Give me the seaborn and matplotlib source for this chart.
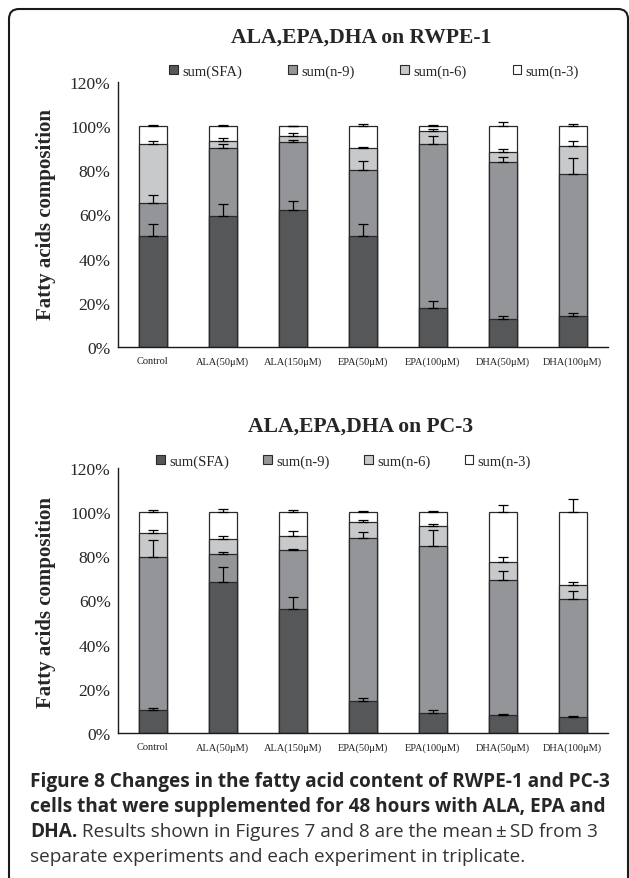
import numpy as np
import matplotlib
matplotlib.use("Agg")
import matplotlib.pyplot as plt
from matplotlib.patches import Patch, FancyBboxPatch
import seaborn as sns

# data (percent of total fatty acids)
groups = ["Control", "ALA(50μM)", "ALA(150μM)", "EPA(50μM)", "EPA(100μM)", "DHA(50μM)", "DHA(100μM)"]
series = ["sum(SFA)", "sum(n-9)", "sum(n-6)", "sum(n-3)"]

# RWPE-1
rw_sfa = [50.4, 59.1, 62.1, 50.4, 17.7, 12.8, 14.0]
rw_n9 = [15.0, 31.1, 30.8, 29.8, 74.2, 70.8, 64.2]
rw_n6 = [26.5, 2.9, 2.7, 10.0, 5.7, 4.8, 12.8]
rw_n3 = [8.1, 6.9, 4.4, 9.8, 2.4, 11.6, 9.0]
rw_sfa_sd = [5.1, 5.7, 4.2, 5.4, 3.0, 1.2, 1.6]
rw_n9_sd = [3.3, 1.8, 0.9, 3.9, 3.7, 2.6, 7.4]
rw_n6_sd = [1.6, 1.6, 1.1, 0.3, 0.9, 1.2, 2.2]
rw_n3_sd = [0.6, 0.6, 0.2, 0.9, 0.6, 1.8, 0.9]

# PC-3
pc_sfa = [10.5, 68.2, 56.3, 14.4, 9.2, 8.1, 7.2]
pc_n9 = [69.1, 12.9, 26.3, 73.6, 75.5, 61.3, 53.3]
pc_n6 = [10.8, 6.6, 6.7, 7.2, 9.0, 8.1, 6.6]
pc_n3 = [9.6, 12.3, 10.7, 4.8, 6.3, 22.5, 32.9]
pc_sfa_sd = [1.1, 6.9, 5.4, 1.7, 1.3, 0.8, 0.8]
pc_n9_sd = [7.6, 0.7, 0.7, 2.8, 6.9, 3.9, 3.9]
pc_n6_sd = [1.5, 1.6, 2.1, 0.9, 0.7, 2.2, 1.4]
pc_n3_sd = [0.9, 1.4, 0.9, 0.5, 0.5, 3.0, 5.6]

colors = ["#555759", "#939598", "#c8c9cb", "#ffffff"]
edge = "#2a2a2a"

sns.set_style("white")
plt.rcParams["font.family"] = ["Liberation Serif", "DejaVu Serif"]

fig = plt.figure(figsize=(6.29, 8.79), dpi=100)

# rounded frame round the whole figure
frame = FancyBboxPatch((0.09, -0.3), 6.19, 8.99, boxstyle="round,pad=0,rounding_size=0.1",
                       transform=fig.dpi_scale_trans, facecolor="none", edgecolor="#1a1a1a",
                       linewidth=1.5)
fig.patches.append(frame)


def panel(rect, title, title_y, leg_x, leg_y, colspace, vals, sds):
    ax = fig.add_axes(rect)
    tops = np.cumsum(np.array(vals), axis=0)
    x = np.arange(len(groups))
    # stacked bars: draw the cumulative totals from top layer down
    for i in range(len(series) - 1, -1, -1):
        sns.barplot(x=groups, y=tops[i], color=colors[i], width=0.4, saturation=1,
                    edgecolor=edge, linewidth=0.9, ax=ax, zorder=2)
    for i in range(len(series)):
        ax.errorbar(x, tops[i], yerr=[np.zeros(len(x)), sds[i]], fmt="none", ecolor="black",
                    elinewidth=0.9, capsize=3.5, capthick=0.9, zorder=5)
    ax.set_xlim(-0.5, len(groups) - 0.5)
    ax.set_ylim(0, 120)
    ax.set_yticks(range(0, 121, 20))
    ax.set_yticklabels([f"{v}%" for v in range(0, 121, 20)], fontsize=12.5)
    ax.set_xticks(x)
    ax.set_xticklabels(groups, fontsize=7.5, color="#222222")
    ax.set_xticks(np.arange(0.5, len(groups), 1), minor=True)
    ax.tick_params(axis="x", which="major", length=0, pad=6.5)
    ax.tick_params(axis="x", which="minor", direction="in", length=4, width=0.9)
    ax.tick_params(axis="y", direction="in", length=5, width=0.9, pad=5)
    ax.set_xlabel("")
    ax.set_ylabel("")
    sns.despine(ax=ax)
    for s in ["left", "bottom"]:
        ax.spines[s].set_color("#1a1a1a")
        ax.spines[s].set_linewidth(1.0)
    fig.text(0.574, title_y, title, ha="center", va="center", fontsize=15.6, fontweight="bold")
    handles = [Patch(facecolor=c, edgecolor=edge, linewidth=0.8) for c in colors]
    ax.legend(handles, series, ncol=4, loc="center", bbox_to_anchor=(leg_x, leg_y),
              bbox_transform=fig.transFigure, frameon=False, fontsize=10.5,
              handlelength=0.6, handleheight=0.6, handletextpad=0.3, columnspacing=colspace)
    ax.set_zorder(1)
    return ax


ax1 = panel([0.187, 0.6041, 0.779, 0.3015], "ALA,EPA,DHA on RWPE-1", 0.9568, 0.5946, 0.918, 3.15,
            [rw_sfa, rw_n9, rw_n6, rw_n3], [rw_sfa_sd, rw_n9_sd, rw_n6_sd, rw_n3_sd])
ax2 = panel([0.187, 0.1646, 0.779, 0.3024], "ALA,EPA,DHA on PC-3", 0.5142, 0.546, 0.4744, 2.35,
            [pc_sfa, pc_n9, pc_n6, pc_n3], [pc_sfa_sd, pc_n9_sd, pc_n6_sd, pc_n3_sd])

fig.text(0.073, 1 - 215 / 879, "Fatty acids composition", rotation=90, ha="center", va="center",
         fontsize=15, fontweight="bold")
fig.text(0.073, 1 - 602 / 879, "Fatty acids composition", rotation=90, ha="center", va="center",
         fontsize=15, fontweight="bold")

# caption
cap = ["Open Sans", "DejaVu Sans"]
x0 = 30 / 629
fig.text(x0, 1 - 782 / 879, "Figure 8 Changes in the fatty acid content of RWPE-1 and PC-3",
         family=cap, fontsize=13.7, fontweight="bold", va="center")
fig.text(x0, 1 - 807 / 879, "cells that were supplemented for 48 hours with ALA, EPA and",
         family=cap, fontsize=13.7, fontweight="bold", va="center")
t = fig.text(x0, 1 - 832 / 879, "DHA.", family=cap, fontsize=13.7, fontweight="bold", va="center")
fig.canvas.draw()
bb = t.get_window_extent().transformed(fig.transFigure.inverted())
fig.text(bb.x1, 1 - 832 / 879, " Results shown in Figures 7 and 8 are the mean\u2009±\u2009SD from 3",
         family=cap, fontsize=13.7, va="center", color="#333333")
fig.text(x0, 1 - 857 / 879, "separate experiments and each experiment in triplicate.",
         family=cap, fontsize=13.7, va="center", color="#333333")

fig.savefig("out.png", dpi=100)
